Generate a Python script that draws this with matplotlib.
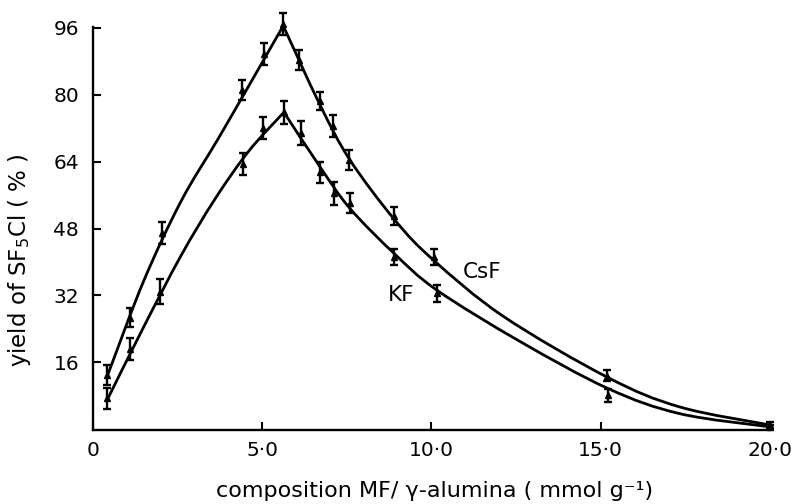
import matplotlib
matplotlib.use("Agg")
import matplotlib.pyplot as plt
from matplotlib.path import Path
from matplotlib.patches import PathPatch
import numpy as np

# ---- data ----
csf_x = [0.42, 1.10, 2.03, 4.40, 5.05, 5.60, 6.10, 6.70, 7.10, 7.57, 8.88, 10.07, 15.17, 20.0]
csf_y = [12.9, 26.7, 47.0, 81.1, 89.7, 96.9, 88.3, 78.5, 72.5, 64.4, 51.0, 41.2, 12.8, 1.0]
csf_e = [2.4, 2.3, 2.6, 2.4, 2.6, 2.7, 2.4, 2.2, 2.6, 2.3, 2.2, 2.0, 1.3, 0.8]

kf_x = [0.42, 1.09, 1.98, 4.42, 5.03, 5.64, 6.13, 6.72, 7.12, 7.59, 8.89, 10.15, 15.20, 20.0]
kf_y = [7.4, 19.1, 32.9, 63.4, 72.1, 75.8, 70.8, 61.4, 56.4, 54.1, 41.2, 32.5, 8.1, 0.5]
kf_e = [2.5, 2.6, 3.0, 2.6, 2.6, 2.7, 2.8, 2.6, 2.8, 2.4, 2.0, 2.0, 1.6, 0.5]

# fitted curves (knots), rising and falling branches
csf_rise_x = [0.45, 1.50, 2.60, 3.70, 4.70, 5.62]
csf_rise_y = [13.3, 35.5, 54.5, 69.5, 83.5, 96.5]
csf_fall_x = [5.62, 6.71, 7.59, 8.92, 10.05, 12.12, 15.20, 17.34, 20.0]
csf_fall_y = [96.5, 77.5, 64.4, 50.0, 40.5, 27.0, 12.4, 5.3, 1.0]

kf_rise_x = [0.45, 1.50, 2.60, 3.60, 4.60, 5.64]
kf_rise_y = [7.5, 24.5, 41.5, 55.0, 66.5, 75.8]
kf_fall_x = [5.64, 6.71, 7.59, 8.90, 10.15, 12.61, 15.22, 17.34, 20.0]
kf_fall_y = [75.8, 62.7, 52.8, 42.0, 33.3, 21.0, 9.7, 3.7, 0.55]

x_ticks = [0, 5, 10, 15, 20]
x_ticklabels = ["0", "5·0", "10·0", "15·0", "20·0"]
y_ticks = [16, 32, 48, 64, 80, 96]


def smooth_path(xs, ys):
    pts = np.column_stack([xs, ys]).astype(float)
    p = np.vstack([pts[0], pts, pts[-1]])
    verts = [tuple(pts[0])]
    codes = [Path.MOVETO]
    for i in range(1, len(p) - 2):
        c1 = p[i] + (p[i + 1] - p[i - 1]) / 6.0
        c2 = p[i + 1] - (p[i + 2] - p[i]) / 6.0
        verts += [tuple(c1), tuple(c2), tuple(p[i + 1])]
        codes += [Path.CURVE4] * 3
    return Path(verts, codes)


fig = plt.figure(figsize=(8.03, 5.04), dpi=100)
ax = fig.add_axes([93 / 803, 74 / 504, (770 - 93) / 803, 403 / 504])
ax.set_xlim(0, 20)
ax.set_ylim(-0.2, 96.2)

for xs, ys in [(csf_rise_x, csf_rise_y), (csf_fall_x, csf_fall_y),
               (kf_rise_x, kf_rise_y), (kf_fall_x, kf_fall_y)]:
    patch = PathPatch(smooth_path(xs, ys), facecolor="none", edgecolor="black",
                      lw=2.0, transform=ax.transData, clip_on=False,
                      capstyle="round", joinstyle="round")
    ax.add_patch(patch)

for xs, ys, es in [(csf_x, csf_y, csf_e), (kf_x, kf_y, kf_e)]:
    ax.errorbar(xs, ys, yerr=es, fmt="^", color="black", ms=5,
                elinewidth=1.7, capsize=2.6, capthick=1.7, clip_on=False)

for side in ["top", "right"]:
    ax.spines[side].set_visible(False)
for side in ["left", "bottom"]:
    ax.spines[side].set_linewidth(1.7)

ax.set_xticks(x_ticks)
ax.set_xticklabels(x_ticklabels)
ax.set_yticks(y_ticks)
ax.tick_params(axis="both", direction="in", length=6, width=1.5,
               labelsize=14.5, colors="black")
ax.tick_params(axis="y", pad=10)
ax.tick_params(axis="x", pad=8)

ax.text(11.5, 37.6, "CsF", fontsize=15.5, ha="center", va="center")
ax.text(9.11, 32.1, "KF", fontsize=15.5, ha="center", va="center")

fig.text(435 / 803, 1 - 491 / 504, "composition MF/ γ-alumina ( mmol g⁻¹)",
         fontsize=16, ha="center", va="center")
fig.text(20 / 803, 1 - 260 / 504, "yield of SF$_5$Cl ( % )", fontsize=16.5,
         ha="center", va="center", rotation=90)

fig.savefig("out.png", dpi=100)
